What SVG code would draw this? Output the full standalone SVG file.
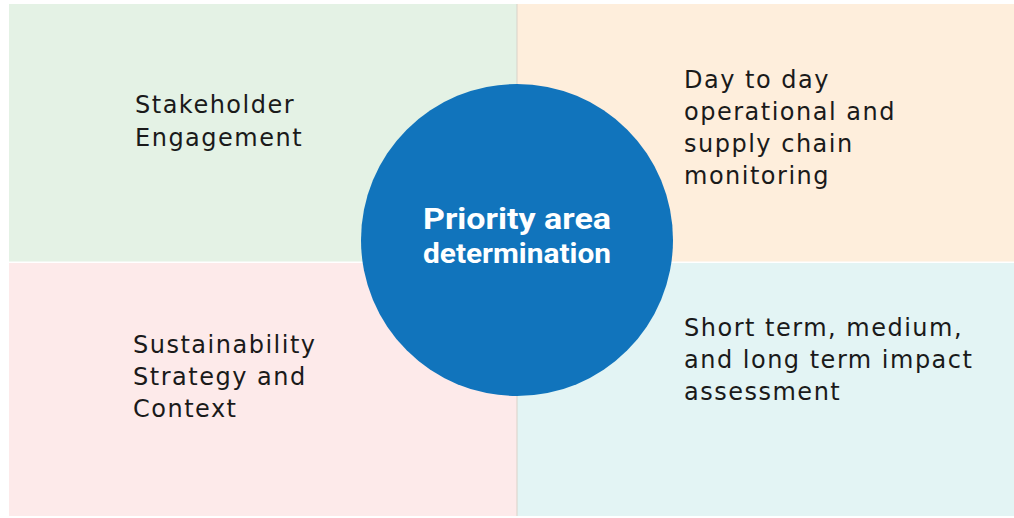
<svg xmlns="http://www.w3.org/2000/svg" width="1014" height="518" viewBox="0 0 1014 518">
<style>
.lbl{font-family:"DejaVu Sans","Liberation Sans",sans-serif;font-size:24px;letter-spacing:1.5px;fill:#1a1a1a;}
.ctr{font-family:"Roboto","Liberation Sans",sans-serif;font-weight:bold;fill:#ffffff;}
</style>
<rect width="1014" height="518" fill="#ffffff"/>
<g id="stakeholder">
<rect x="9" y="4" width="508" height="257.5" fill="#E4F2E5"/>
<text class="lbl" x="135" y="113">Stakeholder</text>
<text class="lbl" x="135" y="146">Engagement</text>
</g>
<g id="operational">
<rect x="517" y="4" width="497" height="257.5" fill="#FEEEDC"/>
<text class="lbl" x="684" y="88">Day to day</text>
<text class="lbl" x="684" y="120">operational and</text>
<text class="lbl" x="684" y="152">supply chain</text>
<text class="lbl" x="684" y="184">monitoring</text>
</g>
<g id="strategy">
<rect x="9" y="263" width="508" height="253" fill="#FDEAEA"/>
<text class="lbl" x="133" y="353">Sustainability</text>
<text class="lbl" x="133" y="385">Strategy and</text>
<text class="lbl" x="133" y="417">Context</text>
</g>
<g id="impact">
<rect x="517" y="263" width="497" height="253" fill="#E3F4F4"/>
<text class="lbl" x="684" y="336">Short term, medium,</text>
<text class="lbl" x="684" y="368">and long term impact</text>
<text class="lbl" x="684" y="400">assessment</text>
</g>
<g id="connectors">
<line x1="517" y1="4" x2="517" y2="516" stroke="#d9d2c8" stroke-width="1"/>
</g>
<g id="priority">
<circle cx="517" cy="240" r="156" fill="#1174BC"/>
<text class="ctr" x="423" y="229" font-size="30" textLength="188" lengthAdjust="spacingAndGlyphs">Priority area</text>
<text class="ctr" x="423" y="263" font-size="27" textLength="188" lengthAdjust="spacingAndGlyphs">determination</text>
</g>
</svg>
